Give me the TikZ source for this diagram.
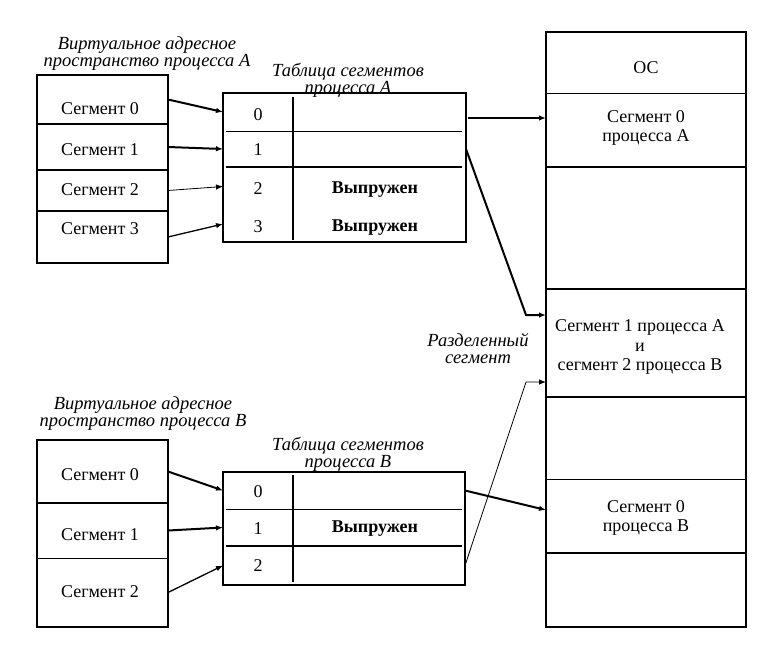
\documentclass[tikz,border=0pt]{standalone}
\usepackage{fontspec}
\setmainfont{Liberation Serif}
\usetikzlibrary{arrows.meta}
\begin{document}
\begin{tikzpicture}[x=1pt,y=-1pt,
  txt/.style={inner sep=0pt, align=center, font=\fontsize{18}{19.5}\selectfont},
  bld/.style={inner sep=0pt, font=\fontsize{18}{19.5}\selectfont\bfseries},
  ttl/.style={inner sep=0pt, align=center, font=\fontsize{18.5}{17}\selectfont\itshape},
  cell/.style={inner sep=0pt, outer sep=0pt},
  box/.style={draw, line width=1.5pt, inner sep=0pt, outer sep=0pt},
  thickdiv/.style={line width=2.5pt},
  thindiv/.style={line width=0.8pt},
  arr/.style={-{Latex[length=7pt,width=5.5pt]}},
  arrthick/.style={arr, line width=2pt},
  arrmed/.style={arr, line width=1.3pt},
  arrthin/.style={arr, line width=0.8pt}
]
\useasboundingbox (0,0) rectangle (783,658);

% ---------- Virtual address space A ----------
\node[ttl] (ttlvA) at (147,53.5) {Виртуальное адресное\\пространство процесса А};
\node[box, minimum width=131pt, minimum height=188pt] (vA) at (102.5,169) {};
\node[cell, minimum width=131pt, minimum height=49pt] (vA0) at (102.5,99.5) {};
\node[cell, minimum width=131pt, minimum height=46pt] (vA1) at (102.5,147) {};
\node[cell, minimum width=131pt, minimum height=41pt] (vA2) at (102.5,190.5) {};
\node[cell, minimum width=131pt, minimum height=52pt] (vA3) at (102.5,237) {};
\draw[thickdiv] (vA0.south west) -- (vA0.south east);
\draw[thickdiv] (vA1.south west) -- (vA1.south east);
\draw[line width=1.5pt] (vA2.south west) -- (vA2.south east);
\node[txt] (svA0) at (100,109) {Сегмент 0};
\node[txt] (svA1) at (100,150) {Сегмент 1};
\node[txt] (svA2) at (100,190) {Сегмент 2};
\node[txt] (svA3) at (100,229) {Сегмент 3};

% ---------- Segment table A ----------
\node[ttl] (ttltA) at (348,80) {Таблица сегментов\\процесса А};
\node[box, minimum width=243pt, minimum height=149pt] (tA) at (344.5,167.5) {};
\node[cell, minimum width=243pt, minimum height=38pt] (tA0) at (344.5,112) {};
\node[cell, minimum width=243pt, minimum height=36pt] (tA1) at (344.5,149) {};
\node[cell, minimum width=243pt, minimum height=39pt] (tA2) at (344.5,186.5) {};
\node[cell, minimum width=243pt, minimum height=36pt] (tA3) at (344.5,224) {};
\draw[line width=2pt] ([xshift=70pt,yshift=-4pt]tA.north west) -- ([xshift=70pt,yshift=2pt]tA.south west);
\draw[thindiv] ([xshift=3pt]tA0.south west) -- ([xshift=-4pt]tA0.south east);
\draw[line width=2pt] ([xshift=3pt]tA1.south west) -- ([xshift=-4pt]tA1.south east);
\node[txt] (nA0) at (258,115) {0};
\node[txt] (nA1) at (258,150) {1};
\node[txt] (nA2) at (258,189) {2};
\node[txt] (nA3) at (258,227) {3};
\node[bld] (xA2) at (375,190) {Выпружен};
\node[bld] (xA3) at (375,228) {Выпружен};

% ---------- Virtual address space B ----------
\node[ttl] (ttlvB) at (143,413.5) {Виртуальное адресное\\пространство процесса В};
\node[box, minimum width=131pt, minimum height=187pt] (vB) at (102.5,533.5) {};
\node[cell, minimum width=131pt, minimum height=63pt] (vB0) at (102.5,471.5) {};
\node[cell, minimum width=131pt, minimum height=55pt] (vB1) at (102.5,530.5) {};
\node[cell, minimum width=131pt, minimum height=69pt] (vB2) at (102.5,592.5) {};
\draw[thickdiv] (vB0.south west) -- (vB0.south east);
\draw[thindiv] (vB1.south west) -- (vB1.south east);
\node[txt] (svB0) at (100,475) {Сегмент 0};
\node[txt] (svB1) at (100,535) {Сегмент 1};
\node[txt] (svB2) at (100,592) {Сегмент 2};

% ---------- Segment table B ----------
\node[ttl] (ttltB) at (348,454) {Таблица сегментов\\процесса В};
\node[box, minimum width=242pt, minimum height=113pt] (tB) at (344,528.5) {};
\node[cell, minimum width=242pt, minimum height=37pt] (tB0) at (344,490.5) {};
\node[cell, minimum width=242pt, minimum height=37pt] (tB1) at (344,527.5) {};
\node[cell, minimum width=242pt, minimum height=39pt] (tB2) at (344,565.5) {};
\draw[line width=2pt] ([xshift=70pt,yshift=-3pt]tB.north west) -- ([xshift=70pt,yshift=3pt]tB.south west);
\draw[thindiv] ([xshift=3pt]tB0.south west) -- ([xshift=-3pt]tB0.south east);
\draw[line width=2pt] ([xshift=3pt]tB1.south west) -- ([xshift=-3pt]tB1.south east);
\node[txt] (nB0) at (258,492) {0};
\node[txt] (nB1) at (258,529) {1};
\node[txt] (nB2) at (258,566) {2};
\node[bld] (xB1) at (375,529) {Выпружен};

% ---------- Physical memory ----------
\node[box, minimum width=200pt, minimum height=595pt] (mem) at (646,329.5) {};
\node[cell, minimum width=200pt, minimum height=61pt] (mOS) at (646,62.5) {};
\node[cell, minimum width=200pt, minimum height=74pt] (mA0) at (646,130) {};
\node[cell, minimum width=200pt, minimum height=122pt] (mF1) at (646,228) {};
\node[cell, minimum width=200pt, minimum height=108pt] (mSh) at (646,343) {};
\node[cell, minimum width=200pt, minimum height=82pt] (mF2) at (646,438) {};
\node[cell, minimum width=200pt, minimum height=74pt] (mB0) at (646,516) {};
\node[cell, minimum width=200pt, minimum height=74pt] (mF3) at (646,590) {};
\draw[thindiv] (mOS.south west) -- (mOS.south east);
\draw[thickdiv] (mA0.south west) -- (mA0.south east);
\draw[thickdiv] (mF1.south west) -- (mF1.south east);
\draw[thickdiv] (mSh.south west) -- (mSh.south east);
\draw[thindiv] (mF2.south west) -- (mF2.south east);
\draw[thickdiv] (mB0.south west) -- (mB0.south east);
\node[txt] (tOS) at (646,68) {ОС};
\node[txt] (tmA0) at (646,128) {Сегмент 0\\процесса А};
\node[txt] (tmSh) at (640,347) {Сегмент 1 процесса А\\и\\сегмент 2 процесса В};
\node[txt] (tmB0) at (646,518) {Сегмент 0\\процесса В};
\node[ttl] (tshared) at (478,348.5) {Разделенный\\сегмент};

% ---------- Connectors ----------
\draw[arrthick] (vA0.east) -- (tA0.west);
\draw[arrthick] (vA1.east) -- (tA1.west);
\draw[arrthin]  (vA2.east) -- (tA2.west);
\draw[arrmed]   (vA3.east) -- (tA3.west);
\draw[arrthick] (vB0.east) -- (tB0.west);
\draw[arrthick] (vB1.east) -- (tB1.west);
\draw[arrmed]   (vB2.east) -- (tB2.west);

\coordinate (kA) at (526,315);
\coordinate (kB) at (526,382);
\draw[arrthick] ([xshift=2pt,yshift=-6pt]tA0.east) -- ([yshift=-6pt]tA0.east -| mA0.west);
\draw[arrthick] (tA1.east) -- (kA) -- (kA -| mSh.west);
\draw[arrthick] (tB0.east) -- ([yshift=6pt]mB0.west);
\draw[arrthin]  (tB2.east) -- (kB) -- (kB -| mSh.west);
\end{tikzpicture}
\end{document}
